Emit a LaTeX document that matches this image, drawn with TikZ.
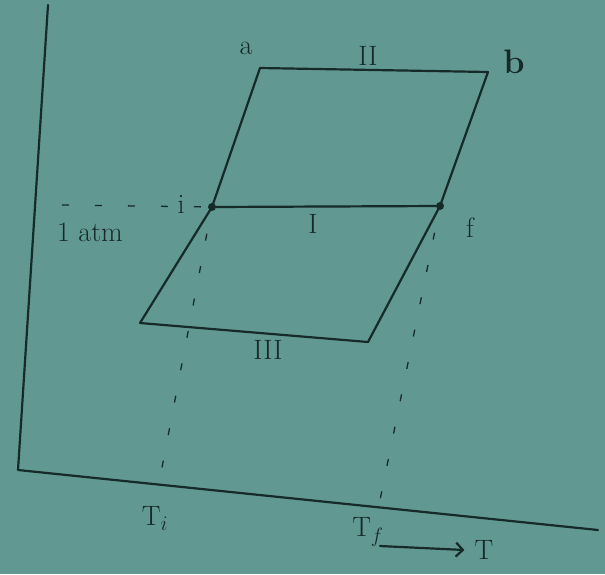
\documentclass[tikz,border=0pt]{standalone}
\usetikzlibrary{arrows.meta}
\definecolor{board}{RGB}{98,152,146}
\definecolor{ink}{RGB}{22,42,42}
\begin{document}
\begin{tikzpicture}[x=1pt,y=-1pt,
  ink line/.style={draw=ink,line width=2.2pt,line cap=round,line join=round},
  guide/.style={draw=ink,line width=1.3pt,dash pattern=on 7pt off 26pt},
  lbl/.style={text=ink,font=\fontsize{28}{30}\selectfont,inner sep=0pt},
  dot/.style={circle,fill=ink,inner sep=0pt,minimum size=8pt}]
\fill[board] (0,0) rectangle (605,574);
\useasboundingbox (0,0) rectangle (605,574);
% axes
\coordinate (ytop) at (48,5);
\coordinate (origin) at (18,470);
\coordinate (xend) at (598,530);
\draw[ink line] (ytop) -- (origin) -- (xend);
% corners
\coordinate (a) at (260,68);
\coordinate (b) at (488,72);
\coordinate (bl) at (140,323);
\coordinate (br) at (368,342);
\node[dot] (i) at (212,207) {};
\node[dot] (f) at (440,206) {};
\draw[ink line] (bl) -- (i.center) -- (a) -- (b) -- (f.center) -- (br) -- cycle;
\draw[ink line] (i) -- (f);
% guides
\coordinate (patm) at (62,205);
\draw[guide] (patm) -- (i);
\coordinate (ti) at (160,478);
\coordinate (tf) at (380,500);
\draw[guide,dash phase=10pt] (i) -- (ti);
\draw[guide,dash phase=10pt] (f) -- (tf);
% labels
\node[lbl] (la) at (246,48) {a};
\node[lbl,font=\fontsize{34}{36}\selectfont] (lb) at (514,62) {\textbf{b}};
\node[lbl] (lII) at (368,56) {II};
\node[lbl] (lI) at (313,224) {I};
\node[lbl] (lIII) at (268,350) {III};
\node[lbl] (li) at (181,204) {i};
\node[lbl] (lf) at (470,228) {f};
\node[lbl] (latm) at (90,232) {1 atm};
\node[lbl] (lTi) at (155,518) {T$_i$};
\node[lbl] (lTf) at (368,532) {T$_f$};
\node[lbl] (lT) at (484,550) {T};
\coordinate (arrs) at (380,546);
\draw[ink line,-{Straight Barb[length=7pt]}] (arrs) -- ([xshift=-10pt]lT.west);
\end{tikzpicture}
\end{document}
